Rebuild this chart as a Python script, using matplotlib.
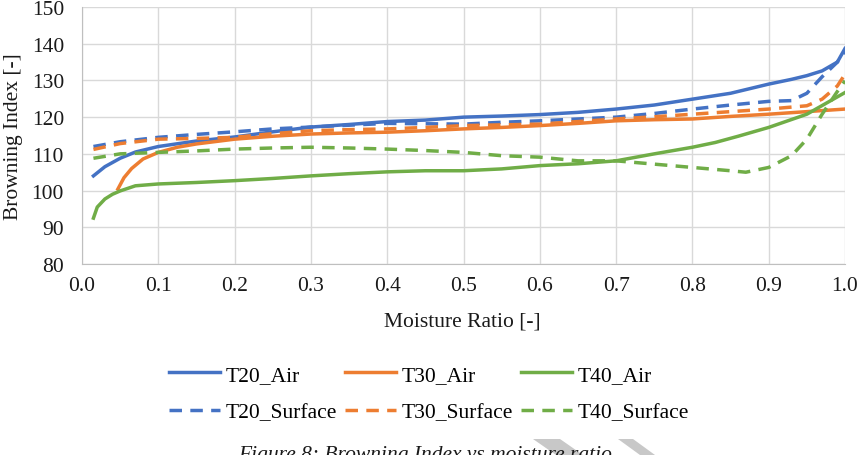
import matplotlib
matplotlib.use("Agg")
import matplotlib.pyplot as plt
from matplotlib.patches import Polygon

plt.rcParams['font.family'] = ['Liberation Serif', 'DejaVu Serif']

# Browning index vs moisture ratio
t20_air_x = [0.015, 0.03, 0.05, 0.07, 0.1, 0.15, 0.2, 0.25, 0.3, 0.35, 0.4, 0.45, 0.5,
             0.55, 0.6, 0.65, 0.7, 0.75, 0.8, 0.85, 0.9, 0.93, 0.95, 0.97, 0.99, 1.0]
t20_air_y = [104.0, 106.5, 108.8, 110.5, 112.0, 113.5, 114.6, 116.0, 117.3, 118.0, 118.8, 119.2, 120.0,
             120.3, 120.7, 121.3, 122.2, 123.3, 124.9, 126.5, 129.0, 130.3, 131.3, 132.6, 135.0, 138.7]

t20_srf_x = [0.015, 0.05, 0.1, 0.15, 0.2, 0.25, 0.3, 0.35, 0.4, 0.45, 0.5, 0.55, 0.6,
             0.65, 0.7, 0.75, 0.8, 0.85, 0.9, 0.93, 0.95, 0.97, 0.99, 1.0]
t20_srf_y = [112.0, 113.3, 114.5, 115.3, 116.0, 116.8, 117.3, 117.8, 118.3, 118.2, 118.1, 118.6, 119.0,
             119.5, 120.0, 121.0, 122.2, 123.3, 124.3, 124.5, 126.5, 131.0, 135.0, 138.0]

t30_air_x = [0.047, 0.055, 0.065, 0.08, 0.1, 0.125, 0.15, 0.2, 0.25, 0.3, 0.35, 0.4, 0.45,
             0.5, 0.55, 0.6, 0.65, 0.7, 0.75, 0.8, 0.85, 0.9, 0.95, 1.0]
t30_air_y = [100.4, 103.5, 106.0, 108.6, 110.4, 111.8, 112.7, 114.0, 114.8, 115.4, 115.7, 115.9, 116.3,
             116.8, 117.2, 117.7, 118.3, 119.0, 119.3, 119.5, 120.2, 120.8, 121.5, 122.2]

t30_srf_x = [0.015, 0.05, 0.1, 0.15, 0.2, 0.25, 0.3, 0.35, 0.4, 0.45, 0.5, 0.55, 0.6,
             0.65, 0.7, 0.75, 0.8, 0.85, 0.9, 0.95, 0.97, 0.99, 1.0]
t30_srf_y = [111.2, 112.8, 114.0, 114.2, 114.5, 115.5, 116.3, 116.6, 116.8, 117.2, 117.7, 117.9, 118.1,
             118.8, 119.5, 120.1, 120.8, 121.5, 122.2, 123.1, 124.9, 128.5, 131.7]

t40_air_x = [0.015, 0.02, 0.03, 0.04, 0.05, 0.07, 0.1, 0.15, 0.2, 0.25, 0.3, 0.35, 0.4,
             0.45, 0.5, 0.55, 0.6, 0.65, 0.7, 0.75, 0.8, 0.83, 0.86, 0.9, 0.95, 1.0]
t40_air_y = [92.5, 95.5, 97.7, 99.0, 99.9, 101.3, 101.8, 102.2, 102.7, 103.3, 104.0, 104.6, 105.1,
             105.4, 105.4, 105.9, 106.8, 107.3, 108.1, 110.0, 111.8, 113.1, 114.8, 117.2, 120.8, 126.7]

t40_srf_x = [0.015, 0.05, 0.1, 0.15, 0.2, 0.25, 0.3, 0.35, 0.4, 0.45, 0.5, 0.55, 0.6,
             0.65, 0.7, 0.75, 0.8, 0.85, 0.87, 0.9, 0.93, 0.95, 0.97, 0.99, 1.0]
t40_srf_y = [108.8, 110.0, 110.4, 110.8, 111.3, 111.6, 111.8, 111.6, 111.3, 110.9, 110.4, 109.5, 109.1,
             108.1, 108.1, 107.2, 106.3, 105.4, 105.0, 106.3, 109.5, 114.0, 120.8, 127.0, 129.9]

BLUE, ORANGE, GREEN = '#4472C4', '#ED7D31', '#70AD47'
LW = 2.5
DASH = (0, (3.6, 2.4))
FS = 15.5
TXT = '#1a1a1a'

fig = plt.figure(figsize=(8.63, 4.56), dpi=100)
ax = fig.add_axes([82 / 863, 1 - 265 / 456, 763 / 863, 257 / 456])

ax.plot(t20_air_x, t20_air_y, color=BLUE, lw=LW, label='T20_Air')
ax.plot(t20_srf_x, t20_srf_y, color=BLUE, lw=LW, ls=DASH, label='T20_Surface')
ax.plot(t30_air_x, t30_air_y, color=ORANGE, lw=LW, label='T30_Air')
ax.plot(t30_srf_x, t30_srf_y, color=ORANGE, lw=LW, ls=DASH, label='T30_Surface')
ax.plot(t40_air_x, t40_air_y, color=GREEN, lw=LW, label='T40_Air')
ax.plot(t40_srf_x, t40_srf_y, color=GREEN, lw=LW, ls=DASH, label='T40_Surface')

ax.set_xlim(0, 1.0)
ax.set_ylim(80, 150)
ax.set_xticks([i / 10 for i in range(11)])
ax.set_xticklabels([f'{i / 10:.1f}' for i in range(11)])
ax.set_yticks(range(80, 151, 10))
ax.tick_params(length=0, labelsize=FS, colors=TXT)
ax.tick_params(axis='y', pad=13)
ax.tick_params(axis='x', pad=9)
ax.grid(True, color='#d9d9d9', lw=1)
ax.set_axisbelow(True)
for side in ('top', 'right'):
    ax.spines[side].set_visible(False)
for side in ('left', 'bottom'):
    ax.spines[side].set_color('#bfbfbf')

ax.set_xlabel('Moisture Ratio [-]', fontsize=FS, color=TXT)
ax.xaxis.set_label_coords(0.498, -0.185)
ax.set_ylabel('Browning Index [-]', fontsize=FS, color=TXT)
ax.yaxis.set_label_coords(-0.077, 0.5)

fig.legend(loc='center', bbox_to_anchor=(0.497, 1 - 394.5 / 456), ncol=3, frameon=False,
           fontsize=FS, handlelength=2.4, handletextpad=0.25, columnspacing=0.35,
           labelspacing=0.8)

fig.text(425 / 863, 1 - 456 / 456, 'Figure 8: Browning Index vs moisture ratio',
         fontsize=FS, style='italic', ha='center', va='center', color=TXT)

# grey watermark strokes at the bottom edge
for pts in ([(533, 440), (560, 440), (583, 456), (556, 456)],
            [(618, 440), (633, 440), (655, 456), (640, 456)]):
    fig.patches.append(Polygon([(x / 863, 1 - y / 456) for x, y in pts],
                               closed=True, transform=fig.transFigure,
                               color='#c8c8c8', lw=0))

fig.savefig('out.png', dpi=100)
